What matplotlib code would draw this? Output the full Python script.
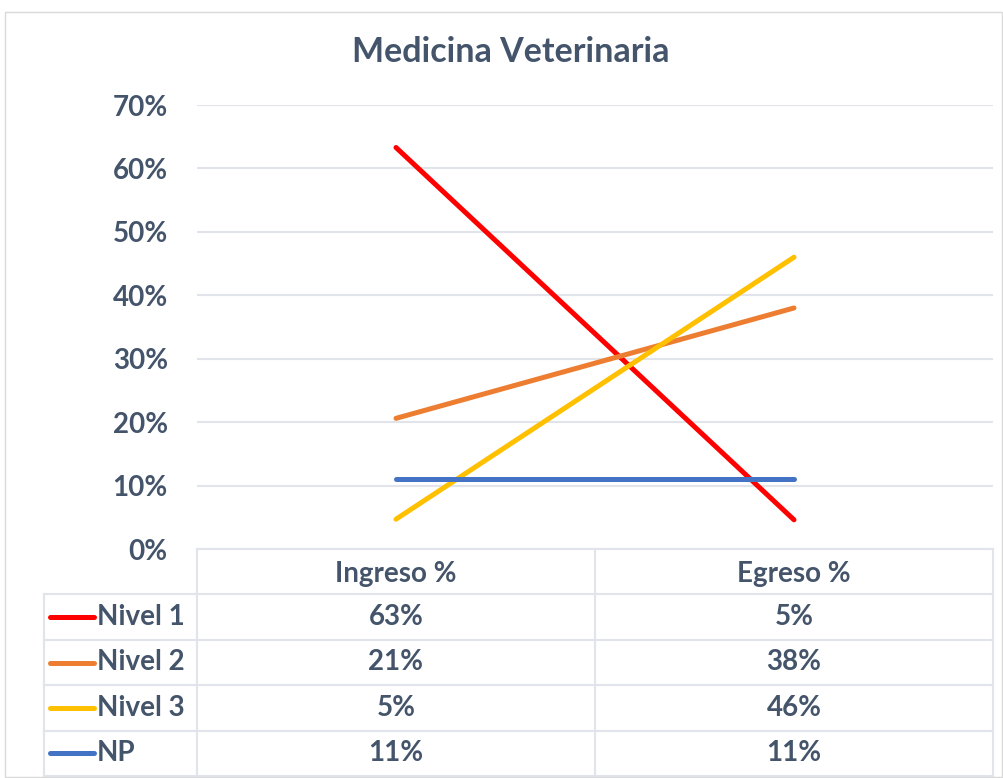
import matplotlib.pyplot as plt
from matplotlib.patches import Rectangle

# Series values in percent (Ingreso, Egreso)
categories = ["Ingreso %", "Egreso %"]
series_names = ["Nivel 1", "Nivel 2", "Nivel 3", "NP"]
nivel1 = [63.3, 4.6]
nivel2 = [20.6, 38.0]
nivel3 = [4.7, 46.0]
np_vals = [11.0, 11.0]
y_ticks = [0, 10, 20, 30, 40, 50, 60, 70]

colors = ["#FF0000", "#ED7D31", "#FFC000", "#4472C4"]
text_color = "#44546A"
grid_color = "#E1E5EB"
font = "Lato"

W, H = 1004, 778
fig = plt.figure(figsize=(W / 100, H / 100), dpi=100)


def px_box(x0, y0, x1, y1):
    # pixel box (top-left origin) -> figure fraction rect
    return [x0 / W, 1 - y1 / H, (x1 - x0) / W, (y1 - y0) / H]


# outer chart frame
fig.patches.append(Rectangle((5 / W, 1 - 777 / H), 997 / W, 765 / H,
                             transform=fig.transFigure, fill=False,
                             edgecolor="#D9D9D9", linewidth=1))

fig.text(511 / W, 1 - 52 / H, "Medicina Veterinaria", ha="center", va="center",
         fontsize=24.5, fontweight="bold", color=text_color, family=font)

# --- line chart ---
ax = fig.add_axes(px_box(197, 105, 993, 549))
all_series = [nivel1, nivel2, nivel3, np_vals]
xs = list(range(len(categories)))
for vals, c in zip(all_series, colors):
    ax.plot(xs, vals, color=c, linewidth=3.6, solid_capstyle="round", zorder=3)
ax.set_xlim(-0.5, len(categories) - 0.5)
ax.set_ylim(0, 70)
ax.set_yticks(y_ticks)
ax.set_yticklabels([f"{t}%" for t in y_ticks], fontsize=20, fontweight="bold",
                   color=text_color, family=font)
ax.tick_params(axis="y", length=0, pad=21)
ax.set_xticks([])
ax.grid(axis="y", color=grid_color, linewidth=1.5)
for s in ax.spines.values():
    s.set_visible(False)

# --- data table below the plot ---
tab = fig.add_axes(px_box(44, 549, 993, 776))
x_left = -0.5 - (197 - 44) / 398
tab.set_xlim(x_left, len(categories) - 0.5)
n_rows = len(series_names) + 1
tab.set_ylim(n_rows, 0)
tab.axis("off")

lc = dict(color=grid_color, linewidth=1.5, clip_on=False)
tab.plot([-0.5, 1.5], [0, 0], **lc)
for r in range(1, n_rows + 1):
    tab.plot([x_left, 1.5], [r, r], **lc)
tab.plot([x_left, x_left], [1, n_rows], **lc)
for xv in [-0.5, 0.5, 1.5]:
    tab.plot([xv, xv], [0, n_rows], **lc)

cell_font = dict(fontsize=20, fontweight="bold", color=text_color, family=font,
                 ha="center", va="center")
for i, cat in enumerate(categories):
    tab.text(i, 0.55, cat, **cell_font)

key_x0 = x_left + 6 / 398
key_x1 = x_left + 50 / 398
label_x = x_left + 53 / 398
for r, (name, vals, c) in enumerate(zip(series_names, all_series, colors), start=1):
    yc = r + 0.5
    tab.plot([key_x0, key_x1], [yc, yc], color=c, linewidth=3.6,
             solid_capstyle="round", clip_on=False)
    tab.text(label_x, yc, name, fontsize=20, fontweight="bold", color=text_color,
             family=font, ha="left", va="center")
    for i, v in enumerate(vals):
        tab.text(i, yc, f"{v:.0f}%", **cell_font)

fig.savefig("out.png", dpi=100)
